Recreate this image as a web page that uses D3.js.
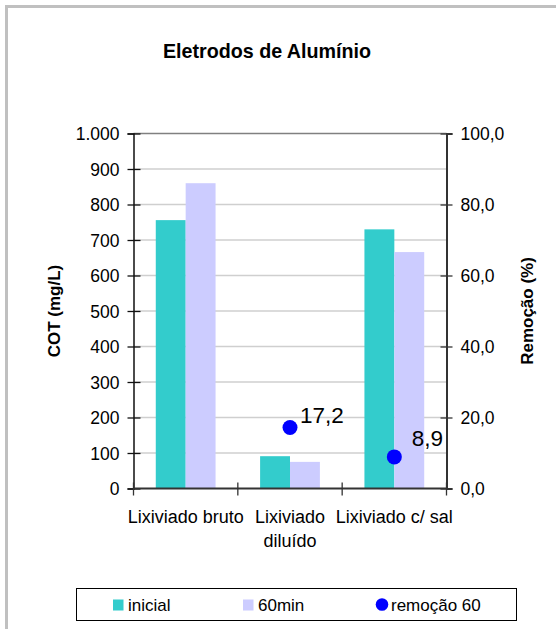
<!DOCTYPE html>
<html>
<head>
<meta charset="utf-8">
<script src="https://cdn.jsdelivr.net/npm/d3@7"></script>
<style>
  html, body { margin: 0; padding: 0; background: #fff; }
  svg { display: block; font-family: "Liberation Sans", Arial, sans-serif; }
</style>
</head>
<body>
<svg id="chart" width="556" height="629"></svg>
<script>
// COT (mg/L) per effluent, before and after 60 min, plus removal (%)
const categories = ["Lixiviado bruto", "Lixiviado diluído", "Lixiviado c/ sal"];
const categoryLines = [["Lixiviado bruto"], ["Lixiviado", "diluído"], ["Lixiviado c/ sal"]];
const seriesNames = ["inicial", "60min"];
const inicial = [756, 91, 730];
const min60 = [860, 75, 666];
const remocao60 = [null, 17.2, 8.9];
const leftTicks = [0, 100, 200, 300, 400, 500, 600, 700, 800, 900, 1000];
const rightTicks = [0, 20, 40, 60, 80, 100];

const colors = { inicial: "#33CCCC", "60min": "#CCCCFF", remocao: "#0000FF" };
// label placement relative to each removal point (dx, dy in px)
const pointLabelOffset = [null, [10, -4.5], [17.5, -10.5]];

const ptBR = d3.formatLocale({ decimal: ",", thousands: ".", grouping: [3], currency: ["", ""] });
const fmtLeft = ptBR.format(",.0f");
const fmtRight = ptBR.format(".1f");

const svg = d3.select("#chart");

// outer frame
svg.append("path")
  .attr("d", "M6.5,629 L6.5,6.5 L556,6.5")
  .attr("fill", "none").attr("stroke", "#c0c0c0").attr("stroke-width", 3);

const plot = { left: 133.5, right: 446.5, top: 133.5, bottom: 488.5 };

const y = d3.scaleLinear().domain([0, 1000]).range([plot.bottom, plot.top]);
const y2 = d3.scaleLinear().domain([0, 100]).range([plot.bottom, plot.top]);
const x0 = d3.scaleBand().domain(categories).range([plot.left, plot.right]).padding(0);
const x1 = d3.scaleBand().domain(seriesNames).range([0, x0.bandwidth()]).paddingInner(0).paddingOuter(0.745);

// title
svg.append("text")
  .attr("x", 267).attr("y", 58)
  .attr("text-anchor", "middle")
  .attr("font-size", 19.7).attr("font-weight", "bold")
  .text("Eletrodos de Alumínio");

// gridlines
svg.append("g").selectAll("line")
  .data(leftTicks.filter(d => d > 0 && d < 1000))
  .join("line")
  .attr("x1", plot.left).attr("x2", plot.right)
  .attr("y1", d => y(d)).attr("y2", d => y(d))
  .attr("stroke", "#cfcfcf").attr("stroke-width", 1.3);

// plot area top border
svg.append("line")
  .attr("x1", plot.left).attr("x2", plot.right)
  .attr("y1", y(1000)).attr("y2", y(1000))
  .attr("stroke", "#808080").attr("stroke-width", 1.5);

// bars
const barData = categories.map((c, i) => ({ c, vals: [
  { s: "inicial", v: inicial[i] },
  { s: "60min", v: min60[i] }
] }));

svg.append("g").selectAll("g")
  .data(barData)
  .join("g")
  .attr("transform", d => `translate(${x0(d.c)},0)`)
  .selectAll("rect")
  .data(d => d.vals)
  .join("rect")
  .attr("x", d => x1(d.s))
  .attr("width", x1.bandwidth())
  .attr("y", d => y(d.v))
  .attr("height", d => y(0) - y(d.v))
  .attr("fill", d => colors[d.s]);

// left axis
const leftAxis = svg.append("g")
  .attr("transform", `translate(${plot.left},0)`)
  .call(d3.axisLeft(y).tickValues(leftTicks).tickFormat(fmtLeft).tickSize(6).tickPadding(8));
leftAxis.select(".domain").attr("stroke", "#111").attr("stroke-width", 1.5);
leftAxis.selectAll(".tick line").attr("x2", -6).attr("x1", 7).attr("stroke", "#111").attr("stroke-width", 1.3);
leftAxis.selectAll(".tick text").attr("font-size", 17.5).attr("fill", "#000")
  .attr("font-family", "Liberation Sans, Arial, sans-serif").attr("x", -14).attr("dy", "0.35em");

// right axis
const rightAxis = svg.append("g")
  .attr("transform", `translate(${plot.right},0)`)
  .call(d3.axisRight(y2).tickValues(rightTicks).tickFormat(fmtRight).tickSize(6).tickPadding(8));
rightAxis.select(".domain").attr("stroke", "#333").attr("stroke-width", 2);
rightAxis.selectAll(".tick line").attr("x2", 6).attr("x1", -6).attr("stroke", "#333").attr("stroke-width", 1.3);
rightAxis.selectAll(".tick text").attr("font-size", 17.5).attr("fill", "#000")
  .attr("font-family", "Liberation Sans, Arial, sans-serif").attr("x", 14).attr("dy", "0.35em");

// category axis: line, boundary ticks, labels
const catAxis = svg.append("g");
catAxis.append("line")
  .attr("x1", plot.left).attr("x2", plot.right)
  .attr("y1", y(0)).attr("y2", y(0))
  .attr("stroke", "#333").attr("stroke-width", 2);
const bounds = categories.map(c => x0(c)).concat([x0.range()[1]]);
catAxis.selectAll("line.b")
  .data(bounds)
  .join("line")
  .attr("class", "b")
  .attr("x1", d => d).attr("x2", d => d)
  .attr("y1", y(0) - 6).attr("y2", y(0) + 7)
  .attr("stroke", "#333").attr("stroke-width", 1.3);
catAxis.selectAll("text")
  .data(categories)
  .join("text")
  .attr("x", d => x0(d) + x0.bandwidth() / 2)
  .attr("y", 523)
  .attr("text-anchor", "middle")
  .attr("font-size", 18)
  .each(function(d, i) {
    d3.select(this).selectAll("tspan")
      .data(categoryLines[i])
      .join("tspan")
      .attr("x", x0(d) + x0.bandwidth() / 2)
      .attr("dy", (t, j) => j === 0 ? 0 : 23.5)
      .text(t => t);
  });

// axis titles
svg.append("text")
  .attr("transform", `translate(60,${(plot.top + plot.bottom) / 2}) rotate(-90)`)
  .attr("text-anchor", "middle")
  .attr("font-size", 17).attr("font-weight", "bold")
  .text("COT (mg/L)");
svg.append("text")
  .attr("transform", `translate(533,${(plot.top + plot.bottom) / 2}) rotate(-90)`)
  .attr("text-anchor", "middle")
  .attr("font-size", 17).attr("font-weight", "bold")
  .text("Remoção (%)");

// removal points and labels
const pts = categories.map((c, i) => ({ c, v: remocao60[i], off: pointLabelOffset[i] })).filter(d => d.v != null);
svg.append("g").selectAll("circle")
  .data(pts)
  .join("circle")
  .attr("cx", d => x0(d.c) + x0.bandwidth() / 2)
  .attr("cy", d => y2(d.v))
  .attr("r", 7.5)
  .attr("fill", colors.remocao);
svg.append("g").selectAll("text")
  .data(pts)
  .join("text")
  .attr("x", d => x0(d.c) + x0.bandwidth() / 2 + d.off[0])
  .attr("y", d => y2(d.v) + d.off[1])
  .attr("font-size", 22.5)
  .text(d => fmtRight(d.v));

// legend
const legend = svg.append("g");
legend.append("rect")
  .attr("x", 76.5).attr("y", 588.5).attr("width", 440).attr("height", 32)
  .attr("fill", "#fff").attr("stroke", "#000").attr("stroke-width", 1);
const legendItems = [
  { label: "inicial", type: "rect", color: colors.inicial, x: 113 },
  { label: "60min", type: "rect", color: colors["60min"], x: 243 },
  { label: "remoção 60", type: "circle", color: colors.remocao, x: 376 }
];
legendItems.forEach(it => {
  if (it.type === "rect") {
    legend.append("rect").attr("x", it.x).attr("y", 599.5).attr("width", 10.5).attr("height", 11).attr("fill", it.color);
  } else {
    legend.append("circle").attr("cx", it.x + 6).attr("cy", 604.5).attr("r", 6.3).attr("fill", it.color);
  }
  legend.append("text").attr("x", it.x + 15).attr("y", 611).attr("font-size", 17).text(it.label);
});
</script>
</body>
</html>
